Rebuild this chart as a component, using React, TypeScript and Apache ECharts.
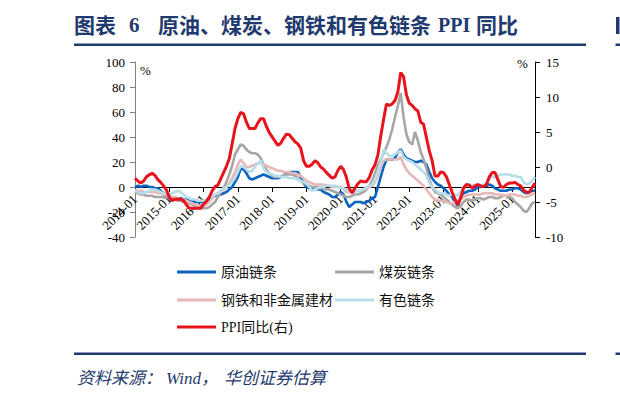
import React, { useEffect, useRef } from "react";
import * as echarts from "echarts";

const SERIF = "'Liberation Serif', 'Times New Roman', 'Noto Sans CJK SC', serif";
const NAVY = "#1f3a6e";

const startYear = 2014;
const pointCount = 141; // 2014-01 .. 2025-09
const categories: string[] = Array.from({ length: pointCount }, (_, i) =>
  `${startYear + Math.floor(i / 12)}-${String((i % 12) + 1).padStart(2, "0")}`
);

const seriesNames = ["原油链条", "煤炭链条", "钢铁和非金属建材", "有色链条", "PPI同比(右)"];

// 原油链条 (left axis, %)
const crudeOil = [
  0, 1, 0, 1, 1, 0, 0, -1, -1, -3, -5, -8,
  -10, -10, -9, -9, -9, -10, -10, -11, -11, -12, -12, -12,
  -12, -11, -10, -8, -7, -6, -6, -5, -4, -2, 0, 4,
  8, 15, 14, 11, 7, 6, 7, 8, 9, 10, 9, 8,
  7, 7, 7, 8, 9, 11, 12, 12, 12, 12, 8, 3,
  0, -1, -1, -1, -2, -2, -4, -5, -6, -8, -8, -6,
  -4, -6, -12, -16, -14, -12, -12, -12, -13, -12, -11, -9,
  -8, 0, 8, 16, 22, 22, 22, 23, 28, 30, 26, 23,
  22, 21, 20, 20, 21, 20, 18, 12, 7, 4, 2, 1,
  -1, -3, -6, -8, -12, -15, -8, -5, -4, -3, -3, -2,
  0, 0, 1, 1, 2, 1, -1, -2, -3, -3, -3, -2,
  -2, -1, -1, -2, -4, -5, -4, -3, -3,
];

// 煤炭链条 (left axis, %)
const coal = [
  -4, -5, -6, -6, -7, -7, -7, -8, -8, -8, -8, -8,
  -9, -10, -10, -11, -11, -12, -12, -13, -14, -15, -16, -17,
  -17, -17, -16, -14, -12, -8, -4, -1, 4, 10, 17, 26,
  30, 34, 33, 30, 28, 27, 27, 26, 23, 18, 14, 11,
  9, 8, 8, 8, 9, 10, 10, 10, 9, 7, 5, 3,
  2, 1, 0, 0, 0, -1, -1, -2, -2, -3, -4, -5,
  -6, -7, -8, -8, -7, -6, -6, -5, -4, -2, 1, 5,
  11, 17, 22, 27, 32, 38, 46, 56, 65, 75, 56, 42,
  36, 34, 44, 37, 28, 22, 15, 6, 0, -4, -5, -6,
  -8, -10, -12, -14, -16, -17, -15, -12, -10, -10, -11, -10,
  -9, -9, -10, -9, -8, -8, -9, -9, -8, -7, -7, -8,
  -9, -12, -14, -16, -19, -20, -17, -13, -12,
];

// 钢铁和非金属建材 (left axis, %)
const steel = [
  -2, -3, -3, -4, -4, -4, -4, -4, -5, -5, -6, -6,
  -7, -8, -8, -9, -10, -10, -11, -12, -13, -14, -15, -15,
  -15, -14, -12, -9, -6, -5, -4, -2, 0, 3, 7, 12,
  18, 22, 19, 16, 16, 17, 18, 19, 19, 18, 17, 16,
  15, 14, 13, 13, 12, 12, 12, 11, 11, 10, 9, 7,
  5, 4, 3, 2, 2, 2, 2, 1, 1, 0, 0, 0,
  0, -2, -4, -4, -4, -3, -3, -3, -2, -1, 0, 1,
  4, 9, 16, 21, 22, 22, 22, 22, 22, 24, 18, 14,
  11, 9, 7, 5, 3, 1, -2, -5, -8, -10, -11, -11,
  -11, -12, -13, -13, -12, -11, -10, -8, -7, -6, -6, -6,
  -6, -6, -5, -5, -5, -5, -6, -6, -6, -7, -7, -6,
  -6, -6, -7, -7, -8, -8, -7, -6, -5,
];

// 有色链条 (left axis, %)
const nonFerrous = [
  -3, -4, -5, -5, -4, -3, -2, -2, -3, -4, -5, -5,
  -6, -5, -4, -3, -4, -6, -8, -9, -10, -10, -11, -11,
  -11, -10, -8, -7, -6, -5, -3, -1, 0, 2, 4, 7,
  12, 17, 16, 14, 12, 13, 16, 19, 21, 15, 12, 11,
  10, 9, 9, 8, 8, 8, 7, 7, 7, 6, 5, 4,
  3, 0, -3, -2, -1, 0, 0, 1, 1, 1, 1, 0,
  -1, -1, -2, -3, -4, -4, -3, -3, -2, 0, 1, 2,
  6, 12, 20, 30, 27, 25, 25, 26, 28, 29, 24, 22,
  21, 20, 18, 16, 14, 12, 9, 3, 0, -2, -4, -5,
  -5, -6, -7, -6, -6, -7, -3, 0, 2, 2, 1, 2,
  2, 1, 2, 3, 6, 8, 8, 9, 10, 10, 10, 10,
  9, 9, 8, 8, 4, 2, 3, 5, 8,
];

// PPI同比 (right axis, %)
const ppi = [
  -1.6, -2.0, -2.3, -2.0, -1.4, -1.1, -0.9, -1.2, -1.8, -2.2, -2.7, -3.3,
  -4.3, -4.8, -4.6, -4.6, -4.6, -4.8, -5.4, -5.9, -5.9, -5.9, -5.9, -5.9,
  -5.3, -4.9, -4.3, -3.4, -2.8, -2.6, -1.7, -0.8, 0.1, 1.2, 3.3, 5.5,
  6.9, 7.8, 7.6, 6.4, 5.5, 5.5, 5.5, 6.3, 6.9, 6.9, 5.8, 4.9,
  4.3, 3.7, 3.1, 3.4, 4.1, 4.7, 4.6, 4.1, 3.6, 3.3, 2.7, 0.9,
  0.1, 0.1, 0.4, 0.9, 0.6, 0.0, -0.3, -0.8, -1.2, -1.6, -1.4, -0.5,
  0.1, -0.4, -1.5, -3.1, -3.7, -3.0, -2.4, -2.0, -2.1, -2.1, -1.5, -0.4,
  0.3, 1.7, 4.4, 6.8, 9.0, 8.8, 9.0, 9.5, 10.7, 13.5, 12.9, 10.3,
  9.1, 8.8, 8.3, 8.0, 6.4, 6.1, 4.2, 2.3, 0.9, -1.3, -1.3, -0.7,
  -0.8, -1.4, -2.5, -3.6, -4.6, -5.4, -4.4, -3.0, -2.5, -2.6, -3.0, -2.7,
  -2.5, -2.7, -2.8, -2.5, -1.4, -0.8, -0.8, -1.8, -2.8, -2.9, -2.5, -2.3,
  -2.3, -2.2, -2.5, -2.7, -3.3, -3.6, -3.6, -2.9, -2.3,
];

const seriesColors = ["#0a64c0", "#a6a6a6", "#e6b9b8", "#b7dee8", "#e8141c"];
const seriesData = [crudeOil, coal, steel, nonFerrous, ppi];

const legendPos = [
  { left: 177, top: 265 },
  { left: 335, top: 265 },
  { left: 177, top: 293 },
  { left: 335, top: 293 },
  { left: 177, top: 320 },
];

export default function App() {
  const ref = useRef<HTMLDivElement>(null);

  useEffect(() => {
    if (!ref.current) return;
    const chart = echarts.init(ref.current, undefined, { renderer: "svg" });
    const isJan = (i: number) => i % 12 === 0;

    const option: any = {
      animation: false,
      backgroundColor: "#ffffff",
      grid: { left: 135, right: 85, top: 62, bottom: 156, outerBoundsMode: "none" },
      xAxis: {
        type: "category",
        data: categories,
        boundaryGap: false,
        position: "bottom",
        // value 0 of the left axis sits 50px above the grid bottom (140 units over 175px)
        offset: -50,
        axisLine: { show: true, onZero: false, lineStyle: { color: "#000", width: 1 } },
        axisTick: { show: true, interval: isJan, length: 5, lineStyle: { color: "#000" } },
        axisLabel: {
          interval: isJan,
          rotate: 45,
          margin: 10,
          fontFamily: SERIF,
          fontSize: 13,
          color: "#000",
        },
        splitLine: { show: false },
      },
      yAxis: [
        {
          type: "value",
          min: -40,
          max: 100,
          interval: 20,
          position: "left",
          axisLine: { show: true, lineStyle: { color: "#808080" } },
          axisTick: { show: true, length: 5, lineStyle: { color: "#808080" } },
          axisLabel: { fontFamily: SERIF, fontSize: 13, color: "#000", margin: 10 },
          splitLine: { show: false },
        },
        {
          type: "value",
          min: -10,
          max: 15,
          interval: 5,
          position: "right",
          axisLine: { show: true, lineStyle: { color: "#000" } },
          axisTick: { show: true, length: 5, lineStyle: { color: "#000" } },
          axisLabel: { fontFamily: SERIF, fontSize: 13, color: "#000", margin: 11 },
          splitLine: { show: false },
        },
      ],
      legend: seriesNames.map((name, k) => ({
        data: [name],
        left: legendPos[k].left,
        top: legendPos[k].top,
        padding: 0,
        icon: "rect",
        itemWidth: 39,
        itemHeight: 3,
        textStyle: { fontFamily: SERIF, fontSize: 14, color: "#111" },
      })),
      series: seriesNames.map((name, k) => ({
        name,
        type: "line",
        data: seriesData[k],
        yAxisIndex: k === 4 ? 1 : 0,
        symbol: "none",
        lineStyle: { color: seriesColors[k], width: k === 4 ? 3 : 2.6 },
        itemStyle: { color: seriesColors[k] },
        z: 2 + k,
      })),
      graphic: [
        // title
        { type: "text", left: 74, top: 15, style: { text: "图表", font: `bold 21px ${SERIF}`, fill: NAVY } },
        { type: "text", left: 129, top: 14, style: { text: "6", font: `bold 21px ${SERIF}`, fill: NAVY } },
        { type: "text", left: 158, top: 15, style: { text: "原油、煤炭、钢铁和有色链条", font: `bold 21px ${SERIF}`, fill: NAVY } },
        { type: "text", left: 438, top: 15, style: { text: "PPI", font: `bold 20px ${SERIF}`, fill: NAVY } },
        { type: "text", left: 476, top: 15, style: { text: "同比", font: `bold 21px ${SERIF}`, fill: NAVY } },
        // fragment of the next panel's title at the right edge
        { type: "rect", shape: { x: 616, y: 17, width: 3.5, height: 17 }, style: { fill: NAVY } },
        { type: "rect", shape: { x: 74, y: 43.5, width: 512, height: 2.5 }, style: { fill: NAVY } },
        { type: "rect", shape: { x: 615.5, y: 43.5, width: 10, height: 2.5 }, style: { fill: NAVY } },
        // percent units
        { type: "text", left: 140, top: 64, style: { text: "%", font: `13px ${SERIF}`, fill: "#000" } },
        { type: "text", left: 517, top: 57, style: { text: "%", font: `13px ${SERIF}`, fill: "#000" } },
        // footer
        { type: "rect", shape: { x: 74, y: 352.5, width: 512, height: 2.5 }, style: { fill: NAVY } },
        { type: "rect", shape: { x: 615.5, y: 352.5, width: 10, height: 2.5 }, style: { fill: NAVY } },
        { type: "text", left: 77, top: 370, style: { text: "资料来源：", font: `italic 17px ${SERIF}`, fill: NAVY } },
        { type: "text", left: 166, top: 370, style: { text: "Wind", font: `italic 17px ${SERIF}`, fill: NAVY } },
        { type: "text", left: 201, top: 370, style: { text: "，", font: `italic 17px ${SERIF}`, fill: NAVY } },
        { type: "text", left: 224, top: 370, style: { text: "华创证券估算", font: `italic 17px ${SERIF}`, fill: NAVY } },
      ],
    };

    chart.setOption(option);
    return () => chart.dispose();
  }, []);

  return (
    <div
      ref={ref}
      style={{ position: "absolute", left: 0, top: 0, width: 620, height: 393, background: "#fff" }}
    />
  );
}
